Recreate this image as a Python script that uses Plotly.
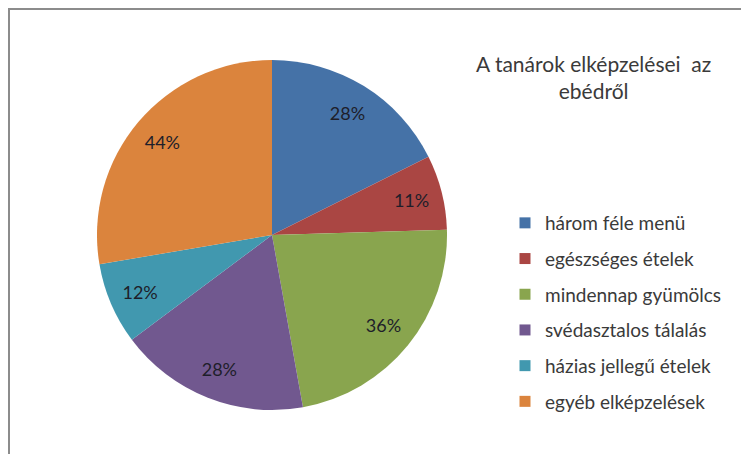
import plotly.graph_objects as go

categories = ["három féle menü", "egészséges ételek", "mindennap gyümölcs",
              "svédasztalos tálalás", "házias jellegű ételek", "egyéb elképzelések"]
values = [28, 11, 36, 28, 12, 44]
labels_text = ["28%", "11%", "36%", "28%", "12%", "44%"]
colors = ["#4572A7", "#AA4643", "#89A54E", "#71588F", "#4198AF", "#DB843D"]

# page has an 8px body margin, so figure coords = page coords - 8
W, H = 741, 446
FONT = "Lato"
dom = dict(x=[89 / W, 439 / W], y=[1 - 402 / H, 1 - 52 / H])

fig = go.Figure()
fig.add_trace(go.Pie(
    labels=categories, values=values,
    textinfo="none", sort=False, direction="clockwise", rotation=0,
    marker=dict(colors=colors, line=dict(width=0)),
    showlegend=False, hoverinfo="label+percent", domain=dom,
))
# transparent ring used only to place the percentage labels further out
fig.add_trace(go.Pie(
    labels=categories, values=values, text=labels_text, hole=0.64,
    textinfo="text", textposition="inside", insidetextorientation="horizontal",
    sort=False, direction="clockwise", rotation=0,
    marker=dict(colors=["rgba(0,0,0,0)"] * len(values), line=dict(width=0)),
    textfont=dict(family=FONT, size=18, color="#1e1e2a"),
    showlegend=False, hoverinfo="skip", domain=dom,
))

for i, (cat, col) in enumerate(zip(categories, colors)):
    fig.add_trace(go.Scatter(
        x=[None], y=[None], mode="markers", name=cat,
        marker=dict(symbol="square", size=11, color=col),
        legendgroup=f"g{i}", showlegend=True,
    ))

fig.update_layout(
    width=W, height=H,
    margin=dict(l=0, r=0, t=0, b=0),
    paper_bgcolor="white", plot_bgcolor="white",
    xaxis=dict(visible=False), yaxis=dict(visible=False),
    legend=dict(
        x=497 / W, y=1 - 196 / H, xanchor="left", yanchor="top",
        font=dict(family=FONT, size=19, color="#3a3a3a"),
        tracegroupgap=8, bgcolor="rgba(0,0,0,0)",
    ),
    annotations=[dict(
        text="A tanárok elképzelései  az<br>ebédről",
        x=585 / W, y=1 - 69 / H, xref="paper", yref="paper",
        xanchor="center", yanchor="middle", showarrow=False, align="center",
        font=dict(family=FONT, size=21, color="#3a3a3a"),
    )],
    shapes=[dict(
        type="rect", xref="paper", yref="paper",
        x0=1 / W, x1=1.05, y0=-0.05, y1=1 - 1 / H,
        line=dict(color="#8c8c8c", width=2), fillcolor="rgba(0,0,0,0)",
        layer="below",
    )],
)

fig.write_html("out.html")
